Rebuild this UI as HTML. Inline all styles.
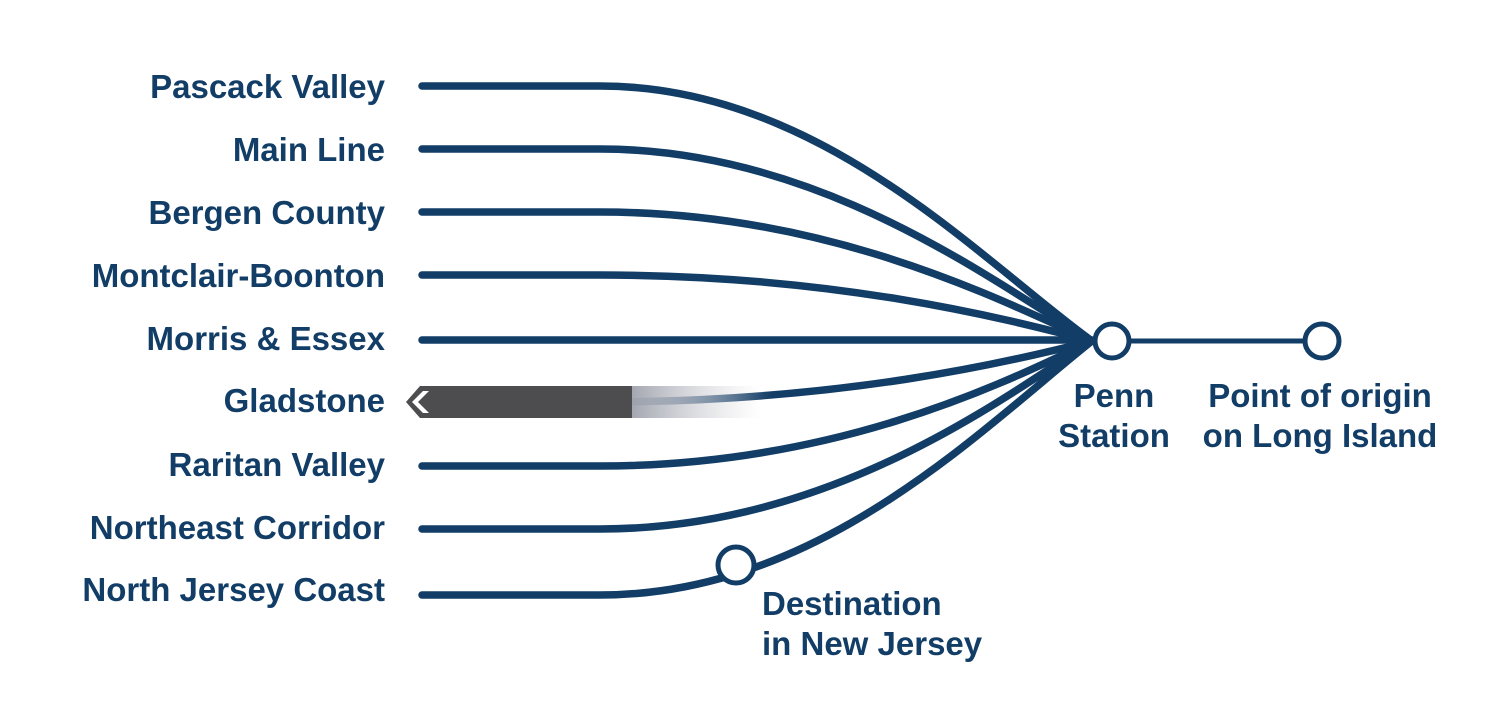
<!DOCTYPE html>
<html><head><meta charset="utf-8"><style>
html,body{margin:0;padding:0;background:#fff;}
svg text{font-family:"Liberation Sans",sans-serif;font-weight:bold;font-size:33px;fill:#123d66;}
</style></head><body>
<svg width="1500" height="708" viewBox="0 0 1500 708" xmlns="http://www.w3.org/2000/svg">
<defs>
<linearGradient id="fw" x1="0" x2="1" y1="0" y2="0">
<stop offset="0" stop-color="#fff" stop-opacity="0.9"/>
<stop offset="1" stop-color="#fff" stop-opacity="0"/>
</linearGradient>
<linearGradient id="fg" x1="0" x2="1" y1="0" y2="0">
<stop offset="0" stop-color="#7d8190" stop-opacity="1"/>
<stop offset="1" stop-color="#c0c0c8" stop-opacity="0"/>
</linearGradient>
</defs>
<g fill="none" stroke="#123d66" stroke-width="7.5" stroke-linecap="round">
<path d="M422,86 H600 C820,86 980,260 1092,341"/>
<path d="M422,149 H600 C820,149 990,280 1092,341"/>
<path d="M422,212 H600 C830,212 1000,300 1092,341"/>
<path d="M422,275 H600 C840,275 1010,320 1092,341"/>
<path d="M422,340 H1092"/>
<path d="M600,402 C840,402 1010,362 1092,341"/>
<path d="M422,466 H600 C840,466 1010,380 1092,341"/>
<path d="M422,529 H600 C830,529 1000,400 1092,341"/>
<path d="M422,595 H600 C820,595 980,430 1092,341"/>
</g>
<polygon points="1070,325 1096,341 1070,357" fill="#123d66"/>
<rect x="632" y="384" width="140" height="36" fill="url(#fw)"/>
<rect x="632" y="386" width="130" height="32" fill="url(#fg)" opacity="0.7"/>
<polygon points="420,386 632,386 632,418 420,418 406,402" fill="#4d4d4f"/>
<polygon points="423,391 412,402 423,413 429,413 418,402 429,391" fill="#fff"/>
<line x1="1112" y1="341" x2="1322" y2="341" stroke="#123d66" stroke-width="5"/>
<circle cx="1112" cy="341" r="17" fill="#fff" stroke="#123d66" stroke-width="5"/>
<circle cx="1322" cy="341" r="17" fill="#fff" stroke="#123d66" stroke-width="5"/>
<circle cx="736" cy="565" r="18" fill="#fff" stroke="#123d66" stroke-width="5"/>
<g text-anchor="end">
<text x="385" y="98">Pascack Valley</text>
<text x="385" y="161">Main Line</text>
<text x="385" y="224">Bergen County</text>
<text x="385" y="287">Montclair-Boonton</text>
<text x="385" y="350">Morris &amp; Essex</text>
<text x="385" y="412">Gladstone</text>
<text x="385" y="476">Raritan Valley</text>
<text x="385" y="539">Northeast Corridor</text>
<text x="385" y="601">North Jersey Coast</text>
</g>
<g text-anchor="middle">
<text x="1114" y="407">Penn</text>
<text x="1114" y="447">Station</text>
<text x="1320" y="407">Point of origin</text>
<text x="1320" y="447">on Long Island</text>
</g>
<text x="762" y="615">Destination</text>
<text x="762" y="655">in New Jersey</text>
</svg>
</body></html>
